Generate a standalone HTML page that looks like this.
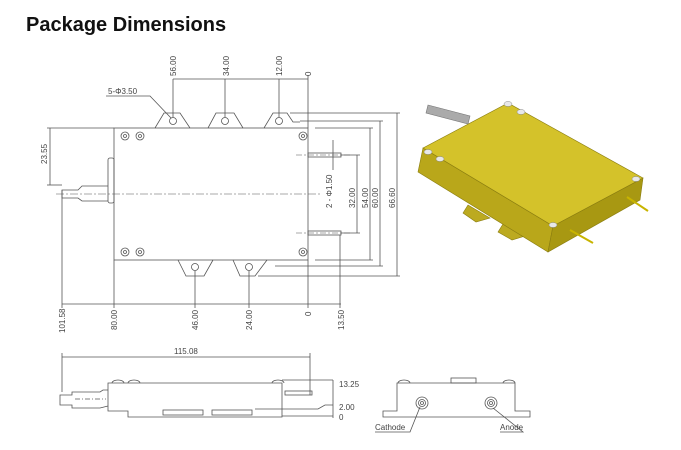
<!DOCTYPE html>
<html><head><meta charset="utf-8"><style>
html,body{margin:0;padding:0;background:#fff;width:681px;height:450px;overflow:hidden}
svg{display:block}
text{font-family:"Liberation Sans",sans-serif;fill:#444}
</style></head><body>
<svg width="681" height="450" viewBox="0 0 681 450" xmlns="http://www.w3.org/2000/svg">
<text x="26" y="31" style="font-size:20px;font-weight:bold;fill:#111">Package Dimensions</text>
<g stroke="#555" stroke-width="0.8" fill="none">
<!-- body -->
<rect x="114" y="128" width="194" height="132" fill="#fff"/>
<!-- top tabs -->
<path d="M155,128 L164,113 L180,113 L190,128"/>
<path d="M208,128 L216,113 L234,113 L243,128"/>
<path d="M264,128 L273,113 L287,113 L293,122 L300,122"/>
<circle cx="173" cy="121" r="3.5"/><circle cx="225" cy="121" r="3.5"/><circle cx="279" cy="121" r="3.5"/>
<!-- bottom tabs -->
<path d="M178,260 L186,276 L204,276 L213,260"/>
<path d="M233,260 L240,276 L255,276 L267,260"/>
<circle cx="195" cy="267" r="3.5"/><circle cx="249" cy="267" r="3.5"/>
<!-- screws -->
<circle cx="125" cy="136" r="4"/><circle cx="125" cy="136" r="1.5"/>
<circle cx="140" cy="136" r="4"/><circle cx="140" cy="136" r="1.5"/>
<circle cx="303" cy="136" r="4"/><circle cx="303" cy="136" r="1.5"/>
<circle cx="125" cy="252" r="4"/><circle cx="125" cy="252" r="1.5"/>
<circle cx="140" cy="252" r="4"/><circle cx="140" cy="252" r="1.5"/>
<circle cx="303" cy="252" r="4"/><circle cx="303" cy="252" r="1.5"/>
<!-- fiber -->
<rect x="108" y="158" width="6" height="45" rx="2"/>
<path d="M108,186 L82,186 L78,190 L62,190 L62,198 L78,198 L82,201 L108,201"/>
<line x1="56" y1="194" x2="320" y2="194" stroke-dasharray="8,2,2,2" stroke-width="0.6"/>
<!-- pins -->
<rect x="308" y="153" width="33" height="4"/><rect x="308" y="231" width="33" height="4"/>
<line x1="296" y1="155" x2="350" y2="155" stroke-dasharray="6,2,2,2" stroke-width="0.6"/>
<line x1="296" y1="233" x2="350" y2="233" stroke-dasharray="6,2,2,2" stroke-width="0.6"/>
<!-- top dimension -->
<line x1="173" y1="79" x2="308" y2="79"/>
<line x1="173" y1="79" x2="173" y2="117"/><line x1="225" y1="79" x2="225" y2="117"/>
<line x1="279" y1="79" x2="279" y2="117"/><line x1="308" y1="75" x2="308" y2="128"/>
<!-- leader 5-phi -->
<path d="M106,96 L150,96 L171,118"/>
<!-- left dim -->
<line x1="50" y1="128" x2="50" y2="185"/><line x1="47" y1="128" x2="114" y2="128"/><line x1="47" y1="185" x2="62" y2="185"/>
<!-- bottom dims -->
<line x1="62" y1="304" x2="341" y2="304"/>
<line x1="62" y1="190" x2="62" y2="308"/><line x1="114" y1="260" x2="114" y2="308"/>
<line x1="195" y1="271" x2="195" y2="308"/><line x1="249" y1="271" x2="249" y2="308"/>
<line x1="308" y1="260" x2="308" y2="308"/><line x1="340" y1="235" x2="340" y2="308"/>
<!-- right dims -->
<line x1="315" y1="128" x2="373" y2="128"/><line x1="315" y1="260" x2="373" y2="260"/>
<line x1="300" y1="121" x2="383" y2="121"/><line x1="275" y1="266" x2="383" y2="266"/>
<line x1="290" y1="113" x2="400" y2="113"/><line x1="258" y1="276" x2="400" y2="276"/>
<line x1="341" y1="155" x2="360" y2="155"/><line x1="341" y1="233" x2="360" y2="233"/>
<line x1="357" y1="155" x2="357" y2="233"/><line x1="370" y1="128" x2="370" y2="260"/>
<line x1="380" y1="121" x2="380" y2="266"/><line x1="397" y1="113" x2="397" y2="276"/>
<line x1="333" y1="140" x2="333" y2="160"/><line x1="333" y1="160" x2="333" y2="170"/>
<!-- side view -->
<line x1="62" y1="357" x2="310" y2="357"/>
<line x1="62" y1="353" x2="62" y2="392"/><line x1="310" y1="353" x2="310" y2="395"/>
<path d="M108,383 L282,383 L282,417 L128,417 L128,411 L108,411 Z"/>
<path d="M108,390 L103,390 L100,392 L72,392 L72,395 L60,395 L60,405 L72,405 L72,408 L100,408 L108,406"/>
<line x1="75" y1="399" x2="106" y2="399" stroke-dasharray="5,2,1,2"/>
<path d="M112,383 a6,3 0 0 1 12,0 M128,383 a6,3 0 0 1 12,0 M272,383 a6,3 0 0 1 12,0"/>
<rect x="163" y="410" width="40" height="5"/><rect x="212" y="410" width="40" height="5"/>
<rect x="285" y="391" width="27" height="4"/>
<line x1="282" y1="380" x2="333" y2="380"/><line x1="282" y1="416" x2="333" y2="416"/>
<line x1="333" y1="380" x2="333" y2="418"/><path d="M255,409 L318,409 L325,405 L333,405"/>
<!-- end view -->
<path d="M397,383 L515,383 L515,411 L530,411 L530,417 L383,417 L383,411 L397,411 Z"/>
<rect x="451" y="378" width="25" height="5"/>
<path d="M398,383 a6,3 0 0 1 12,0 M503,383 a6,3 0 0 1 12,0"/>
<circle cx="422" cy="403" r="6"/><circle cx="422" cy="403" r="3.5"/><circle cx="422" cy="403" r="1.5"/>
<circle cx="491" cy="403" r="6"/><circle cx="491" cy="403" r="3.5"/><circle cx="491" cy="403" r="1.5"/>
<path d="M375,432 L410,432 L420,407"/><path d="M500,432 L523,432 L493,408"/>
</g>
<g style="font-size:8px">
<text x="108" y="94">5-Φ3.50</text>
<text transform="translate(176,76) rotate(-90)">56.00</text>
<text transform="translate(229,76) rotate(-90)">34.00</text>
<text transform="translate(282,76) rotate(-90)">12.00</text>
<text transform="translate(311,76) rotate(-90)">0</text>
<text transform="translate(47,164) rotate(-90)">23.55</text>
<text transform="translate(65,333) rotate(-90)">101.58</text>
<text transform="translate(117,330) rotate(-90)">80.00</text>
<text transform="translate(198,330) rotate(-90)">46.00</text>
<text transform="translate(252,330) rotate(-90)">24.00</text>
<text transform="translate(311,316) rotate(-90)">0</text>
<text transform="translate(344,330) rotate(-90)">13.50</text>
<text transform="translate(332,208) rotate(-90)">2 - Φ1.50</text>
<text transform="translate(355,208) rotate(-90)">32.00</text>
<text transform="translate(368,208) rotate(-90)">54.00</text>
<text transform="translate(378,208) rotate(-90)">60.00</text>
<text transform="translate(395,208) rotate(-90)">66.60</text>
<text x="174" y="354">115.08</text>
<text x="339" y="387">13.25</text>
<text x="339" y="410">2.00</text>
<text x="339" y="420">0</text>
<text x="375" y="430">Cathode</text>
<text x="500" y="430">Anode</text>
</g>
<!-- 3D view -->
<g stroke="#8a7d10" stroke-width="0.6">
<path d="M428,105 L470,116 L468,124 L426,113 Z" fill="#aaa" stroke="#777"/>
<path d="M463,213 L468,205 L490,218 L476,222 Z" fill="#bcaa20"/>
<path d="M498,232 L503,224 L525,236 L512,240 Z" fill="#bcaa20"/>
<path d="M423,148 L553,226 L548,252 L418,172 Z" fill="#b9a71a"/>
<path d="M553,226 L643,178 L640,200 L548,252 Z" fill="#a89812"/>
<path d="M423,148 L508,103 L643,178 L553,226 Z" fill="#d4c22a"/>
</g>
<g fill="#e8e8e8" stroke="#888" stroke-width="0.5">
<ellipse cx="508" cy="104" rx="4" ry="2.5"/><ellipse cx="521" cy="112" rx="4" ry="2.5"/>
<ellipse cx="428" cy="152" rx="4" ry="2.5"/><ellipse cx="440" cy="159" rx="4" ry="2.5"/>
<ellipse cx="636" cy="179" rx="4" ry="2.5"/><ellipse cx="553" cy="225" rx="4" ry="2.5"/>
</g>
<g stroke="#c8b400" stroke-width="2">
<line x1="570" y1="230" x2="593" y2="243"/><line x1="627" y1="197" x2="648" y2="211"/>
</g>
</svg>
</body></html>
